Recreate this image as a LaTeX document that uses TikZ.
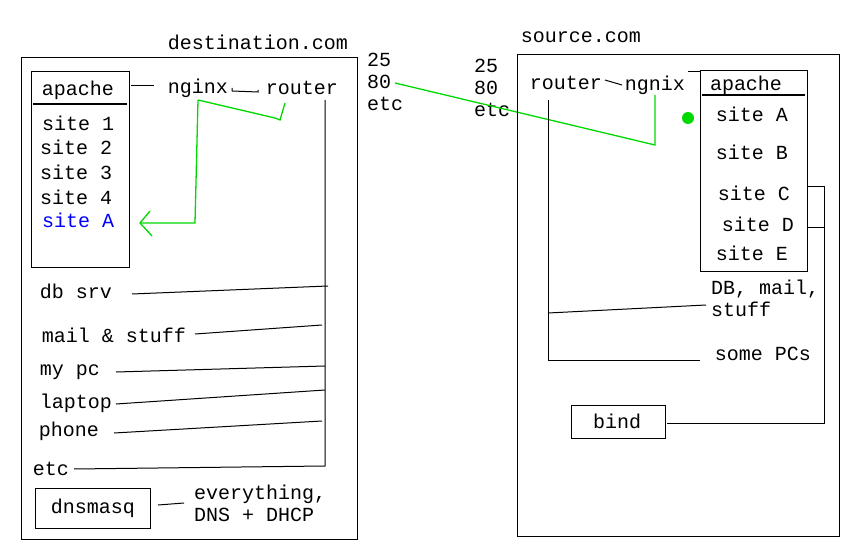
\documentclass[tikz,border=0pt]{standalone}
\usepackage{fontspec}
\setmonofont{Liberation Mono}
\begin{document}
\begin{tikzpicture}[x=1pt,y=-1pt,
  txt/.style={font=\ttfamily\fontsize{20}{22}\selectfont, inner sep=0pt},
  ln/.style={black, line width=1pt},
  gr/.style={green!85!black, line width=1.3pt},
  box/.style={draw, line width=1pt}]
\useasboundingbox (0,0) rectangle (863,559);
% left
\draw[box] (21,58) rectangle (357,539);
\node[txt] (dest) at (258,42) {destination.com};
\draw[box] (31,72) rectangle (129,267);
\draw[line width=1.5pt] (33,104) -- (127,104);
\node[txt] (ap1) at (78,90) {apache};
\node[txt,anchor=west] at (42,123) {site 1};
\node[txt,anchor=west] at (40,147) {site 2};
\node[txt,anchor=west] at (40,172) {site 3};
\node[txt,anchor=west] at (40,197) {site 4};
\node[txt,anchor=west,text=blue] (sa) at (42,220) {site A};
\node[txt] (ngx1) at (198,88) {nginx};
\node[txt] (rt1) at (302,88) {router};
\draw[ln] (131,86) -- (154,86);
\draw[ln] (232,88) -- (232,91) -- (258,92) -- (258,90);
\draw[ln] (325,100) -- (325,466) -- (74,469);
\node[txt] at (76,291) {db srv};
\draw[ln] (132,294) -- (328,286);
\node[txt] at (114,335) {mail \& stuff};
\draw[ln] (195,334) -- (322,325);
\node[txt] at (70,372) {my pc};
\draw[ln] (116,372) -- (325,366);
\node[txt] at (76,403) {laptop};
\draw[ln] (116,404) -- (325,390);
\node[txt] at (69,431) {phone};
\draw[ln] (114,433) -- (322,421);
\node[txt] at (51,469) {etc};
\draw[box] (35,488) rectangle (150,528);
\node[txt] (dm) at (93,508) {dnsmasq};
\draw[ln] (158,505) -- (184,503);
\node[txt,anchor=west,align=left] at (194,503) {everything,\\DNS + DHCP};
% green left
\draw[gr] (198,100) -- (195,223) -- (140,223);
\draw[gr] (150,211) -- (140,223) -- (152,236);
\draw[gr] (198,100) -- (275,118) -- (280,120) -- (285,103);
% middle
\node[txt,anchor=west,align=left] at (367,82) {25\\80\\etc};
\node[txt,anchor=west,align=left] at (474,88) {25\\80\\etc};
\draw[gr] (395,83) -- (655,145) -- (655,95);
\fill[green!85!black] (688,118) circle (6);
% right
\draw[box] (517,55) rectangle (839,536);
\node[txt] (src) at (581,37) {source.com};
\node[txt] (rt2) at (566,83) {router};
\node[txt] (ngx2) at (655,85) {ngnix};
\draw[ln] (605,80) -- (622,85);
\draw[box] (700,71) rectangle (807,271);
\draw[line width=1.5pt] (702,95) -- (805,95);
\draw[ln] (688,72) -- (700,72);
\node[txt] (ap2) at (746,85) {apache};
\node[txt] at (752,114) {site A};
\node[txt] at (752,152) {site B};
\node[txt] at (754,193) {site C};
\node[txt] at (758,224) {site D};
\node[txt] at (752,253) {site E};
\draw[ln] (808,187) -- (824,187) -- (824,423) -- (667,423);
\draw[ln] (808,228) -- (824,228);
\draw[ln] (548,100) -- (548,360) -- (700,360);
\draw[ln] (548,313) -- (706,305);
\node[txt,anchor=west,align=left] at (711,298) {DB, mail,\\stuff};
\node[txt] at (763,354) {some PCs};
\draw[box] (571,405) rectangle (665,438);
\node[txt] (bind) at (617,421) {bind};
\end{tikzpicture}
\end{document}
